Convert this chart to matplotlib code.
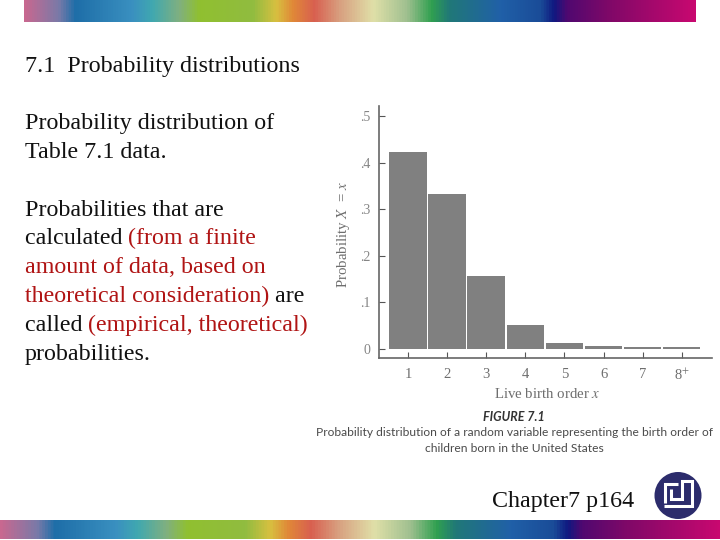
"""Slide: probability distribution of live birth order (Figure 7.1)."""

import matplotlib
matplotlib.use('Agg')
import matplotlib.pyplot as plt
import numpy as np
from matplotlib.colors import LinearSegmentedColormap
from matplotlib.patches import Circle

# ── Data ────────────────────────────────────────────────────────────────────
birth_order = [1, 2, 3, 4, 5, 6, 7, 8]
birth_labels = ['1', '2', '3', '4', '5', '6', '7', '8$^{+}$']
probability = [0.422, 0.333, 0.156, 0.051, 0.013, 0.0065, 0.004, 0.004]
y_ticks = [0.0, 0.1, 0.2, 0.3, 0.4, 0.5]
y_tick_labels = ['0', '.1', '.2', '.3', '.4', '.5']

RED = '#b01414'
BLACK = '#111111'
GRAY = '#6e6e6e'
SERIF = 'Liberation Serif'
BODY_SIZE = 17.3

W, H = 720, 540

rainbow = LinearSegmentedColormap.from_list('slide_band', [
    (0.00, '#c86890'), (0.05, '#7a7aa8'), (0.075, '#1e6ea8'), (0.16, '#3a90c0'),
    (0.19, '#40a8b0'), (0.23, '#80b080'), (0.26, '#90c030'), (0.34, '#90bc40'),
    (0.375, '#d8c040'), (0.40, '#e08838'), (0.432, '#d86050'), (0.47, '#d8a080'),
    (0.52, '#e0e0a8'), (0.57, '#a0c090'), (0.607, '#30a050'), (0.634, '#207878'),
    (0.71, '#2060a8'), (0.77, '#1a4c98'), (0.79, '#101880'), (0.81, '#500870'),
    (0.873, '#800868'), (1.00, '#c80870'),
])


def px_axes(fig, left, top, right, bottom):
    return fig.add_axes([left / W, 1 - bottom / H, (right - left) / W, (bottom - top) / H])


fig = plt.figure(figsize=(7.2, 5.4), dpi=100)

# ── Slide layer in pixel coordinates ────────────────────────────────────────
bg = fig.add_axes([0, 0, 1, 1])
bg.set_xlim(0, W)
bg.set_ylim(H, 0)
bg.axis('off')

ramp = np.linspace(0, 1, 512).reshape(1, -1)
bg.imshow(ramp, cmap=rainbow, extent=(24, 696, 22, 0), aspect='auto')
bg.imshow(ramp, cmap=rainbow, extent=(0, 720, 539, 520), aspect='auto')
bg.set_xlim(0, W)
bg.set_ylim(H, 0)

slide_lines = [
    (25, 64, [('7.1  Probability distributions', BLACK)]),
    (25, 121, [('Probability distribution of', BLACK)]),
    (25, 150, [('Table 7.1 data.', BLACK)]),
    (25, 208, [('Probabilities that are', BLACK)]),
    (25, 236, [('calculated ', BLACK), ('(from a finite', RED)]),
    (25, 265, [('amount of data, based on', RED)]),
    (25, 294, [('theoretical consideration)', RED), (' are', BLACK)]),
    (25, 323, [('called ', BLACK), ('(empirical, theoretical)', RED)]),
    (25, 352, [('probabilities.', BLACK)]),
]
renderer = fig.canvas.get_renderer()
for x, y, parts in slide_lines:
    for part, color in parts:
        t = bg.text(x, y + 2.3, part, color=color, family=SERIF, fontsize=BODY_SIZE,
                    va='center', ha='left')
        x += t.get_window_extent(renderer).width

bg.text(563.5, 501, 'Chapter7 p164', color=BLACK, family=SERIF, fontsize=BODY_SIZE,
        va='center', ha='center')

# caption under the figure
bg.text(514, 417, 'FIGURE 7.1', color='#333333', family='Lato', fontsize=9.0,
        fontweight='bold', fontstyle='italic', ha='center', va='center')
bg.text(514, 433, 'Probability distribution of a random variable representing the birth order of',
        color='#4a4a4a', family='Lato', fontsize=8.65, ha='center', va='center')
bg.text(514, 448, 'children born in the United States',
        color='#4a4a4a', family='Lato', fontsize=8.65, ha='center', va='center')

# round logo
bg.add_patch(Circle((678, 495.5), 23.5, color='#2c2c6c', lw=0))
bg.plot([678, 665, 665], [484, 484, 503], color='white', lw=2.2,
        solid_capstyle='butt', solid_joinstyle='miter')
bg.plot([671, 671, 682, 682, 692, 692, 664], [489, 499, 499, 481, 481, 506, 506],
        color='white', lw=2.2, solid_capstyle='butt', solid_joinstyle='miter')

# ── Bar chart ───────────────────────────────────────────────────────────────
ax = px_axes(fig, 378.7, 106, 712, 358)
ax.patch.set_alpha(0)
ax.bar(birth_order, probability, width=0.96, color='#808080', edgecolor='none')
ax.set_xlim(0.25, 8.775)
ax.set_ylim(-0.0193, 0.5215)

ax.set_xticks(birth_order)
ax.set_xticklabels(birth_labels, family=SERIF, fontsize=10.5, color=GRAY,
                   math_fontfamily='stix')
ax.set_yticks(y_ticks)
ax.set_yticklabels(y_tick_labels, family=SERIF, fontsize=10, color='#858585')
ax.tick_params(axis='both', direction='in', length=4.5, width=0.8, color='#555555', pad=7)
ax.tick_params(axis='y', pad=6)

for side in ('top', 'right'):
    ax.spines[side].set_visible(False)
for side in ('left', 'bottom'):
    ax.spines[side].set_color('#666666')
    ax.spines[side].set_linewidth(1.2)

bg.text(547, 394, 'Live birth order $x$', color=GRAY, family=SERIF, fontsize=10.7,
        ha='center', va='center', math_fontfamily='stix')
bg.text(344, 234, 'Probability $X$  = $x$', color=GRAY, family=SERIF, fontsize=10.7, rotation=90,
        ha='center', va='center', math_fontfamily='stix')

fig.savefig('out.png', dpi=100)
plt.close(fig)
